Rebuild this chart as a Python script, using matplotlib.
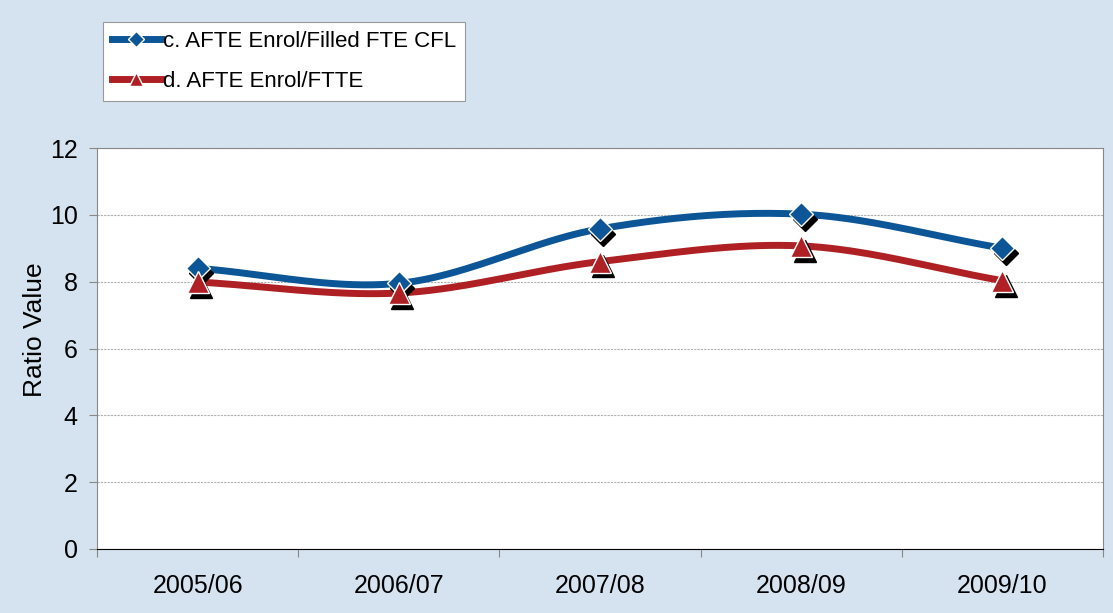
import numpy as np
import matplotlib
matplotlib.use("Agg")
import matplotlib.pyplot as plt
from matplotlib.transforms import offset_copy
from matplotlib.lines import Line2D

categories = ["2005/06", "2006/07", "2007/08", "2008/09", "2009/10"]
series_c = [8.4, 7.95, 9.58, 10.02, 9.0]
series_d = [7.99, 7.66, 8.6, 9.07, 8.03]
label_c = "c. AFTE Enrol/Filled FTE CFL"
label_d = "d. AFTE Enrol/FTTE"
yticks = [0, 2, 4, 6, 8, 10, 12]

plt.rcParams['font.family'] = ['Liberation Sans', 'DejaVu Sans']


def catmull_rom(x, y, n=40):
    x = np.asarray(x, float); y = np.asarray(y, float)
    px = np.concatenate([[2 * x[0] - x[1]], x, [2 * x[-1] - x[-2]]])
    py = np.concatenate([[2 * y[0] - y[1]], y, [2 * y[-1] - y[-2]]])
    xs, ys = [], []
    for i in range(1, len(px) - 2):
        t = np.linspace(0, 1, n)
        for arr, out in ((px, xs), (py, ys)):
            p0, p1, p2, p3 = arr[i - 1], arr[i], arr[i + 1], arr[i + 2]
            out.append(0.5 * ((2 * p1) + (-p0 + p2) * t + (2 * p0 - 5 * p1 + 4 * p2 - p3) * t ** 2
                              + (-p0 + 3 * p1 - 3 * p2 + p3) * t ** 3))
    return np.concatenate(xs), np.concatenate(ys)


fig = plt.figure(figsize=(11.13, 6.13), dpi=100)
fig.patch.set_facecolor('#d5e3f0')
ax = fig.add_axes([97 / 1113, 1 - 549 / 613, (1103 - 97) / 1113, (549 - 148) / 613])
ax.set_facecolor('white')

xpos = np.arange(len(categories)) + 0.5
blue = '#0c5596'
red = '#ae2024'

for vals, col, mk, ms in ((series_c, blue, 'D', 12), (series_d, red, '^', 16)):
    sx, sy = catmull_rom(xpos, vals)
    ax.plot(sx, sy, color=col, lw=5, solid_capstyle='round', zorder=3)
    shadow = offset_copy(ax.transData, fig=fig, x=2.5, y=-3.5, units='points')
    ax.plot(xpos, vals, linestyle='none', marker=mk, ms=ms, color='black', mec='black', transform=shadow, zorder=4)
    ax.plot(xpos, vals, linestyle='none', marker=mk, ms=ms, color=col, mec='white', mew=1, zorder=5)

ax.set_xlim(0, len(categories))
ax.set_ylim(0, 12)
ax.set_yticks(yticks)
ax.set_yticklabels([str(v) for v in yticks], fontsize=18)
ax.set_xticks(np.arange(len(categories) + 1))
ax.set_xticklabels([])
ax.set_xticks(xpos, minor=True)
ax.set_xticklabels(categories, minor=True, fontsize=18)
ax.tick_params(axis='x', which='minor', length=0, pad=18)
ax.tick_params(axis='x', which='major', length=6, direction='out', color='#888888')
ax.tick_params(axis='y', length=6, direction='out', color='#888888', pad=8)
ax.grid(axis='y', color='#b0b0b0', lw=0.8, ls=(0, (2, 1)))
ax.set_axisbelow(True)
for s in ['top', 'right']:
    ax.spines[s].set_color('#888888')
    ax.spines[s].set_linewidth(0.8)
ax.spines['left'].set_color('#888888')
ax.spines['bottom'].set_color('black')
ax.set_ylabel('Ratio Value', fontsize=19)
ax.yaxis.set_label_coords(-0.05, 0.548)

handles = [Line2D([], [], color=blue, lw=5, marker='D', ms=8, mfc=blue, mec='white'),
           Line2D([], [], color=red, lw=5, marker='^', ms=10, mfc=red, mec='white')]
leg = fig.legend(handles, [label_c, label_d], loc='upper left', bbox_to_anchor=(103 / 1113, 1 - 22 / 613),
                 fontsize=16, frameon=True, fancybox=False, edgecolor='#999999', handlelength=2.2,
                 handletextpad=0.1, borderpad=0.4, labelspacing=0.85, borderaxespad=0, framealpha=1)
leg.get_frame().set_linewidth(0.8)

fig.savefig('out.png', dpi=100, facecolor=fig.get_facecolor())
